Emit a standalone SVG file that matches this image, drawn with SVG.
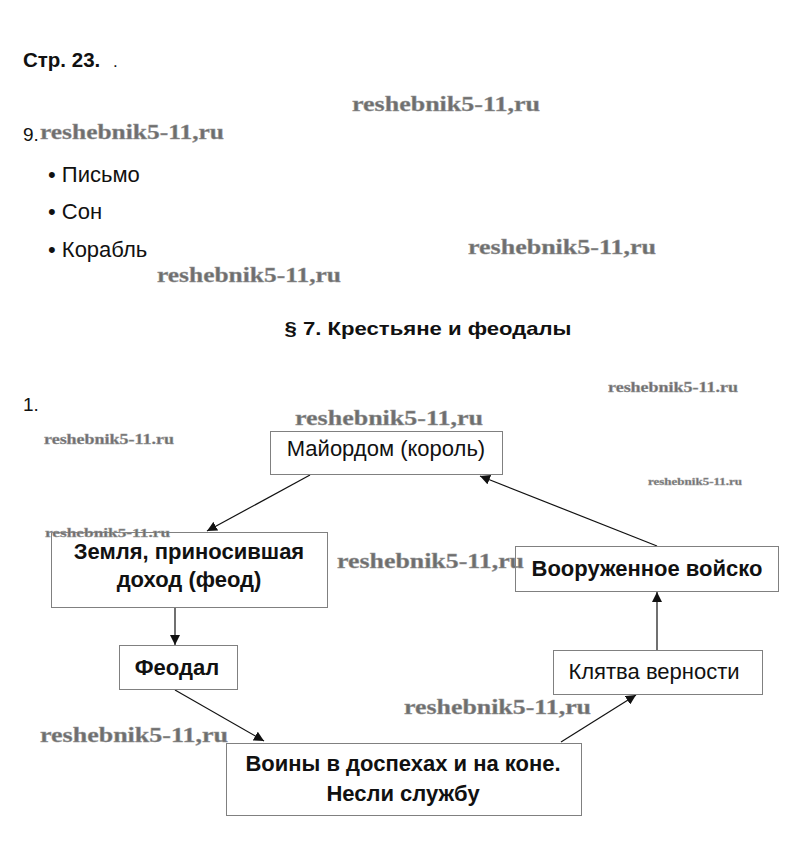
<svg xmlns="http://www.w3.org/2000/svg" width="788" height="866" viewBox="0 0 788 866">
<defs>
<style>
.t{font-family:"Liberation Sans",Arial,sans-serif;fill:#111}
.b{font-weight:bold}
.box{fill:#fff;stroke:#808080;stroke-width:1}
.wm{font-family:"Liberation Serif","Times New Roman",serif;font-weight:bold;fill:#6e6e6e;stroke:#9a9a9a;stroke-width:0.4}
.ln{stroke:#111;stroke-width:1.2;fill:none;marker-end:url(#ah)}
</style>
<marker id="ah" viewBox="0 0 10 10" refX="10" refY="5" markerWidth="10" markerHeight="10" markerUnits="userSpaceOnUse" orient="auto">
<path d="M0,0 L10,5 L0,10 z" fill="#111"/>
</marker>
</defs>
<rect width="788" height="866" fill="#fff"/>
<text class="t b" x="23" y="67" font-size="20.5">Стр. 23.</text>
<text class="t" x="113" y="67" font-size="17" fill="#aaa">.</text>
<text class="t" x="23" y="141" font-size="19">9.</text>
<text class="t" x="48" y="182" font-size="22">• Письмо</text>
<text class="t" x="48" y="219" font-size="22">• Сон</text>
<text class="t" x="48" y="257" font-size="22">• Корабль</text>
<text class="t b" x="428" y="335" font-size="19" text-anchor="middle" textLength="287" lengthAdjust="spacingAndGlyphs">§ 7. Крестьяне и феодалы</text>
<text class="t" x="23" y="411" font-size="19" fill="#333">1.</text>

<g id="connectors">
<line class="ln" x1="310" y1="475" x2="207" y2="531"/>
<line class="ln" x1="657" y1="546" x2="480" y2="476"/>
<line class="ln" x1="175" y1="607" x2="175" y2="645"/>
<line class="ln" x1="175" y1="690" x2="264" y2="741"/>
<line class="ln" x1="561" y1="742" x2="636" y2="695"/>
<line class="ln" x1="657" y1="650" x2="657" y2="592"/>
</g>

<g id="n-mayordom">
<rect class="box" x="270.5" y="431.5" width="232" height="43"/>
<text class="t" x="386" y="456" font-size="22" text-anchor="middle">Майордом (король)</text>
</g>
<g id="n-zemlya">
<rect class="box" x="51.5" y="532.5" width="276" height="75"/>
<text class="t b" x="189" y="559" font-size="22" text-anchor="middle">Земля, приносившая</text>
<text class="t b" x="189" y="587" font-size="22" text-anchor="middle">доход (феод)</text>
</g>
<g id="n-voysko">
<rect class="box" x="515.5" y="546.5" width="263" height="45"/>
<text class="t b" x="647" y="576" font-size="22" text-anchor="middle">Вооруженное войско</text>
</g>
<g id="n-feodal">
<rect class="box" x="119.5" y="645.5" width="118" height="44"/>
<text class="t b" x="177" y="675" font-size="22" text-anchor="middle">Феодал</text>
</g>
<g id="n-klyatva">
<rect class="box" x="553.5" y="650.5" width="209" height="44"/>
<text class="t" x="654" y="679" font-size="22" text-anchor="middle">Клятва верности</text>
</g>
<g id="n-voiny">
<rect class="box" x="226.5" y="743.5" width="355" height="72"/>
<text class="t b" x="403" y="771" font-size="22" text-anchor="middle">Воины в доспехах и на коне.</text>
<text class="t b" x="403" y="801" font-size="22" text-anchor="middle">Несли службу</text>
</g>

<g id="watermarks">
<text class="wm" x="352" y="111" font-size="20" textLength="188" lengthAdjust="spacingAndGlyphs">reshebnik5-11,ru</text>
<text class="wm" x="40" y="139" font-size="20" textLength="184" lengthAdjust="spacingAndGlyphs">reshebnik5-11,ru</text>
<text class="wm" x="468" y="254" font-size="20" textLength="188" lengthAdjust="spacingAndGlyphs">reshebnik5-11,ru</text>
<text class="wm" x="157" y="282" font-size="20" textLength="184" lengthAdjust="spacingAndGlyphs">reshebnik5-11,ru</text>
<text class="wm" x="295" y="425" font-size="20" textLength="188" lengthAdjust="spacingAndGlyphs">reshebnik5-11,ru</text>
<text class="wm" x="337" y="568" font-size="20" textLength="187" lengthAdjust="spacingAndGlyphs">reshebnik5-11,ru</text>
<text class="wm" x="404" y="714" font-size="20" textLength="187" lengthAdjust="spacingAndGlyphs">reshebnik5-11,ru</text>
<text class="wm" x="40" y="742" font-size="20" textLength="188" lengthAdjust="spacingAndGlyphs">reshebnik5-11,ru</text>
<text class="wm" x="608" y="392" font-size="14" textLength="130" lengthAdjust="spacingAndGlyphs">reshebnik5-11.ru</text>
<text class="wm" x="44" y="444" font-size="14" textLength="130" lengthAdjust="spacingAndGlyphs">reshebnik5-11.ru</text>
<text class="wm" x="648" y="485" font-size="11" textLength="94" lengthAdjust="spacingAndGlyphs">reshebnik5-11.ru</text>
<text class="wm" x="45" y="537" font-size="13" textLength="125" lengthAdjust="spacingAndGlyphs">reshebnik5-11.ru</text>
</g>
</svg>
